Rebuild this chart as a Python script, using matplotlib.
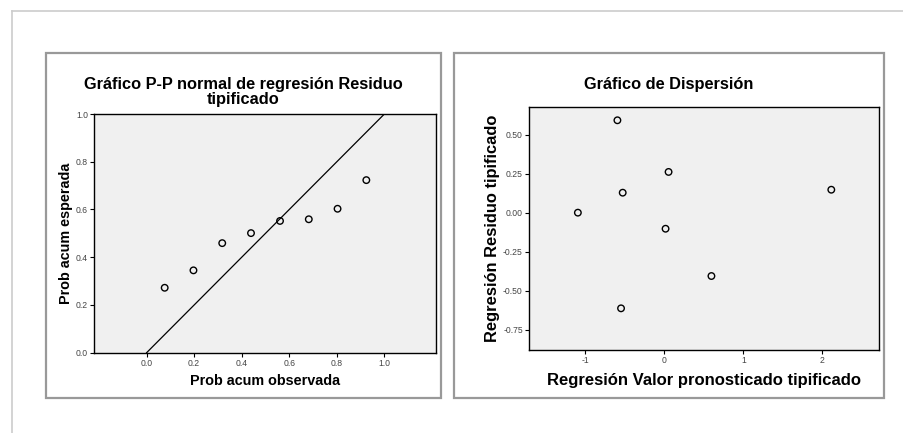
import numpy as np
import matplotlib
matplotlib.use("Agg")
import matplotlib.pyplot as plt
from matplotlib.patches import Rectangle
from matplotlib.lines import Line2D

plt.rcParams["font.family"] = ["Liberation Sans", "DejaVu Sans"]
plt.rcParams["axes.unicode_minus"] = False

# ---------------- data ----------------
# P-P plot: observed vs expected cumulative probability
pp_obs = [0.076, 0.197, 0.318, 0.439, 0.561, 0.682, 0.803, 0.924]
pp_exp = [0.272, 0.345, 0.459, 0.501, 0.552, 0.559, 0.603, 0.723]
pp_ticks = [0.0, 0.2, 0.4, 0.6, 0.8, 1.0]

# scatter: standardized predicted vs standardized residual
sc_pred = [-0.592, -0.525, -1.092, 0.055, 0.017, 0.597, -0.546, 2.113]
sc_resid = [0.592, 0.128, 0.000, 0.261, -0.103, -0.406, -0.613, 0.147]
sc_xticks = [-1, 0, 1, 2]
sc_yticks = [0.50, 0.25, 0.00, -0.25, -0.50, -0.75]

W, H = 904, 433
fig = plt.figure(figsize=(W / 100, H / 100), dpi=100)

def fx(px): return px / W
def fy(py): return 1 - py / H

# light outer border (top + left only)
fig.add_artist(Line2D([fx(12), 1], [fy(11), fy(11)], color="#cccccc", lw=1.2))
fig.add_artist(Line2D([fx(12), fx(12)], [fy(11), 0], color="#cccccc", lw=1.2))

# panel frames
for x0, x1 in [(46, 441), (454, 884)]:
    fig.add_artist(Rectangle((fx(x0), fy(398)), fx(x1) - fx(x0), fy(53) - fy(398),
                             fill=False, edgecolor="#999999", lw=1.6))

def style(ax):
    ax.set_facecolor("#f0f0f0")
    for s in ax.spines.values():
        s.set_color("black"); s.set_linewidth(1.0)
    ax.tick_params(length=3, width=0.8, labelsize=6.2, labelcolor="#444444",
                   color="black", pad=1.5)

# ---- left: P-P normal plot ----
ax1 = fig.add_axes([fx(94.3), fy(352.7), fx(436) - fx(94.3), fy(114) - fy(352.7)])
style(ax1)
ax1.plot([0, 1], [0, 1], color="black", lw=0.9)
ax1.scatter(pp_obs, pp_exp, s=22, facecolors="none", edgecolors="black", linewidths=1.0, zorder=3)
ax1.set_xlim(-0.22, 1.217); ax1.set_ylim(0, 1)
ax1.set_xticks(pp_ticks); ax1.set_yticks(pp_ticks)
ax1.set_xticklabels([f"{t:.1f}" for t in pp_ticks])
ax1.set_yticklabels([f"{t:.1f}" for t in pp_ticks])
fig.text(fx(265), fy(381), "Prob acum observada", ha="center", va="center",
         fontsize=10.4, fontweight="bold")
fig.text(fx(65.7), fy(233), "Prob acum esperada", ha="center", va="center",
         rotation=90, fontsize=10.4, fontweight="bold")
fig.text(fx(243), fy(92), "Gráfico P-P normal de regresión Residuo\ntipificado",
         ha="center", va="center", fontsize=11.8, fontweight="bold", linespacing=0.95)

# ---- right: scatter plot ----
ax2 = fig.add_axes([fx(529), fy(350), fx(879.3) - fx(529), fy(106.7) - fy(350)])
style(ax2)
ax2.scatter(sc_pred, sc_resid, s=22, facecolors="none", edgecolors="black", linewidths=1.0, zorder=3)
ax2.set_xlim(-1.71, 2.72); ax2.set_ylim(-0.88, 0.679)
ax2.set_xticks(sc_xticks); ax2.set_yticks(sc_yticks)
ax2.set_yticklabels([f"{t:.2f}" for t in sc_yticks])
fig.text(fx(704), fy(380), "Regresión Valor pronosticado tipificado", ha="center",
         va="center", fontsize=12, fontweight="bold")
fig.text(fx(493), fy(228), "Regresión Residuo tipificado", ha="center", va="center",
         rotation=90, fontsize=11.9, fontweight="bold")
fig.text(fx(669), fy(85), "Gráfico de Dispersión", ha="center", va="center",
         fontsize=11.8, fontweight="bold")

fig.savefig("out.png", dpi=100)
